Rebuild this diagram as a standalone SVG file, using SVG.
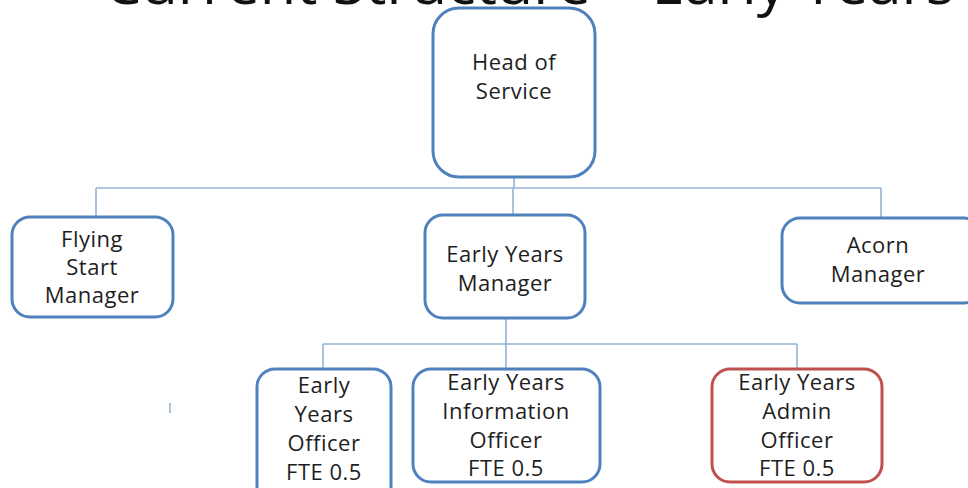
<svg xmlns="http://www.w3.org/2000/svg" width="968" height="488" viewBox="0 0 968 488">
  <style>
    .box { fill: #ffffff; stroke: #4f81bd; stroke-width: 3; }
    .box.alt { stroke: #c0504d; }
    .lbl { font-family: "Open Sans", "Liberation Sans", sans-serif; font-size: 22px; fill: #1e1e1e; text-anchor: middle; letter-spacing: 0.5px; }
    .title { font-family: "Open Sans", "Liberation Sans", sans-serif; font-size: 56px; fill: #111111; }
    .conn { fill: none; stroke: #95b3d7; stroke-width: 1.6; }
  </style>
  <rect width="968" height="488" fill="#ffffff"/>

  <!-- page heading, clipped by the top edge -->
  <text class="title" x="104" y="4" textLength="850" lengthAdjust="spacingAndGlyphs">Current Structure – Early Years</text>

  <g id="connectors">
    <path class="conn" d="M514 177 V188 M96 188 H881 M96 188 V217 M881 188 V218 M513 188 V215"/>
    <path class="conn" d="M506 318 V344 M323 344 H797 M323 344 V369 M506 344 V369 M797 344 V369"/>
    <path class="conn" d="M170 403 V413"/>
  </g>

  <g id="head-of-service">
    <rect class="box" x="433" y="8" width="162" height="169" rx="26"/>
    <text class="lbl" x="514" y="70">Head of</text>
    <text class="lbl" x="514" y="99">Service</text>
  </g>

  <g id="flying-start-manager">
    <rect class="box" x="12" y="217" width="161" height="100" rx="18"/>
    <text class="lbl" x="92" y="247">Flying</text>
    <text class="lbl" x="92" y="275">Start</text>
    <text class="lbl" x="92" y="303">Manager</text>
  </g>

  <g id="early-years-manager">
    <rect class="box" x="425" y="215" width="160" height="103" rx="18"/>
    <text class="lbl" x="505" y="262">Early Years</text>
    <text class="lbl" x="505" y="291">Manager</text>
  </g>

  <g id="acorn-manager">
    <rect class="box" x="782" y="218" width="200" height="85" rx="18"/>
    <text class="lbl" x="878" y="253">Acorn</text>
    <text class="lbl" x="878" y="282">Manager</text>
  </g>

  <g id="early-years-officer">
    <rect class="box" x="257" y="369" width="134" height="140" rx="18"/>
    <text class="lbl" x="324" y="393">Early</text>
    <text class="lbl" x="324" y="422">Years</text>
    <text class="lbl" x="324" y="451">Officer</text>
    <text class="lbl" x="324" y="480">FTE 0.5</text>
  </g>

  <g id="early-years-information-officer">
    <rect class="box" x="413" y="369" width="187" height="113" rx="18"/>
    <text class="lbl" x="506" y="390">Early Years</text>
    <text class="lbl" x="506" y="419">Information</text>
    <text class="lbl" x="506" y="448">Officer</text>
    <text class="lbl" x="506" y="476">FTE 0.5</text>
  </g>

  <g id="early-years-admin-officer">
    <rect class="box alt" x="712" y="369" width="170" height="113" rx="18"/>
    <text class="lbl" x="797" y="390">Early Years</text>
    <text class="lbl" x="797" y="419">Admin</text>
    <text class="lbl" x="797" y="448">Officer</text>
    <text class="lbl" x="797" y="476">FTE 0.5</text>
  </g>
</svg>
